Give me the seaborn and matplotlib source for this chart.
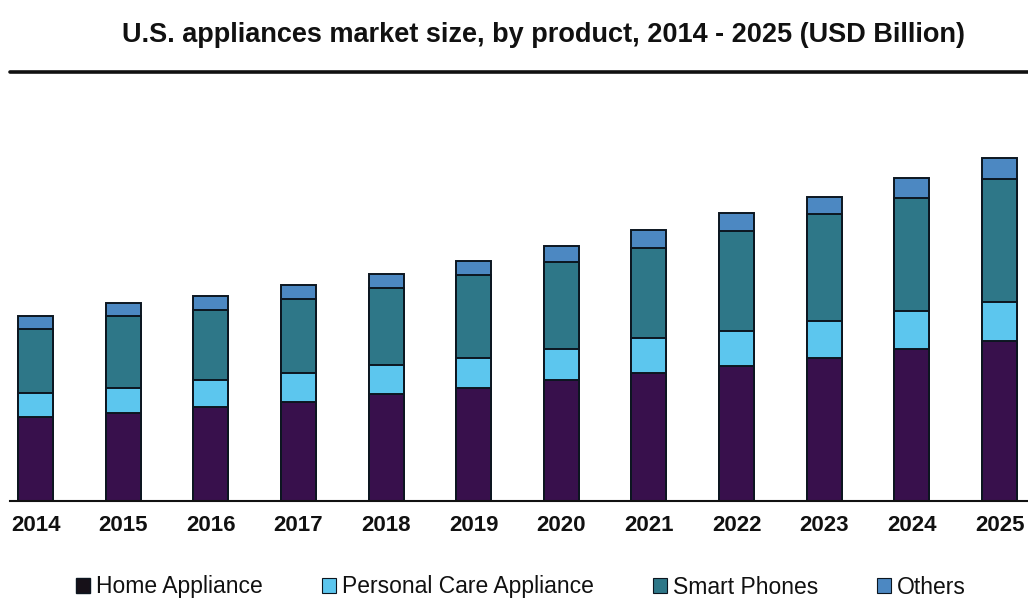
import matplotlib
matplotlib.use("Agg")
import matplotlib.pyplot as plt
import seaborn as sns
import numpy as np
import pandas as pd
from matplotlib.patches import Patch
from matplotlib.lines import Line2D

years = ["2014", "2015", "2016", "2017", "2018", "2019", "2020", "2021", "2022", "2023", "2024", "2025"]
home_appliance = [84, 88, 94, 99, 107, 113, 121, 128, 135, 143, 152, 160]
personal_care = [24, 25, 27, 29, 29, 30, 31, 35, 35, 37, 38, 39]
smart_phones = [64, 72, 70, 74, 77, 83, 87, 90, 100, 107, 113, 123]
others = [13, 13, 14, 14, 14, 14, 16, 18, 18, 17, 20, 21]
series_names = ["Home Appliance", "Personal Care Appliance", "Smart Phones", "Others"]
colors = ["#38104c", "#5cc6ee", "#2e7788", "#4c88c2"]
edge = "#0c1620"

sns.set_theme(style="white")
plt.rcParams["font.family"] = ["Liberation Sans", "DejaVu Sans"]

W, H = 1028, 599
fig = plt.figure(figsize=(W / 100, H / 100), dpi=100)
ax_left, ax_right = 10, 1028
base_y, top_y = 501, 101
ax = fig.add_axes([ax_left / W, (H - base_y) / H, (ax_right - ax_left) / W, (base_y - top_y) / H])

df = pd.DataFrame({"year": years, "ha": home_appliance, "pc": personal_care,
                   "sp": smart_phones, "ot": others})
df["c1"] = df["ha"]
df["c2"] = df["c1"] + df["pc"]
df["c3"] = df["c2"] + df["sp"]
df["c4"] = df["c3"] + df["ot"]

for col, colr in zip(["c4", "c3", "c2", "c1"], colors[::-1]):
    sns.barplot(data=df, x="year", y=col, color=colr, width=0.40, ax=ax,
                edgecolor=edge, linewidth=1.4, saturation=1)

ax.set_xlim(-0.291, 11.325)
ax.set_ylim(0, 400)
ax.set_xlabel("")
ax.set_ylabel("")
ax.set_yticks([])
for s in ["top", "right", "left"]:
    ax.spines[s].set_visible(False)
ax.spines["bottom"].set_color("#111111")
ax.spines["bottom"].set_linewidth(1.5)
ax.tick_params(axis="x", length=0, pad=10, labelsize=16, colors="#111111")
for lbl in ax.get_xticklabels():
    lbl.set_fontweight("bold")

fig.text(544 / W, 1 - 42 / H, "U.S. appliances market size, by product, 2014 - 2025 (USD Billion)",
         ha="center", va="baseline", fontsize=19.5, fontweight="bold", color="#111111")
fig.add_artist(Line2D([10 / W, 1.0], [1 - 72 / H, 1 - 72 / H], color="#111111", linewidth=2.6,
                      transform=fig.transFigure))

handles = [Patch(facecolor=c, edgecolor=edge, linewidth=0.8) for c in colors]
handles[0] = Patch(facecolor="#161018", edgecolor=edge)
fig.legend(handles, series_names, loc="center", bbox_to_anchor=(521 / W, (H - 587) / H),
           ncol=4, frameon=False, fontsize=16.5, handlelength=0.6, handleheight=0.6,
           handletextpad=0.25, columnspacing=2.6, labelcolor="#111111")

fig.savefig("out.png", dpi=100, facecolor="white")
